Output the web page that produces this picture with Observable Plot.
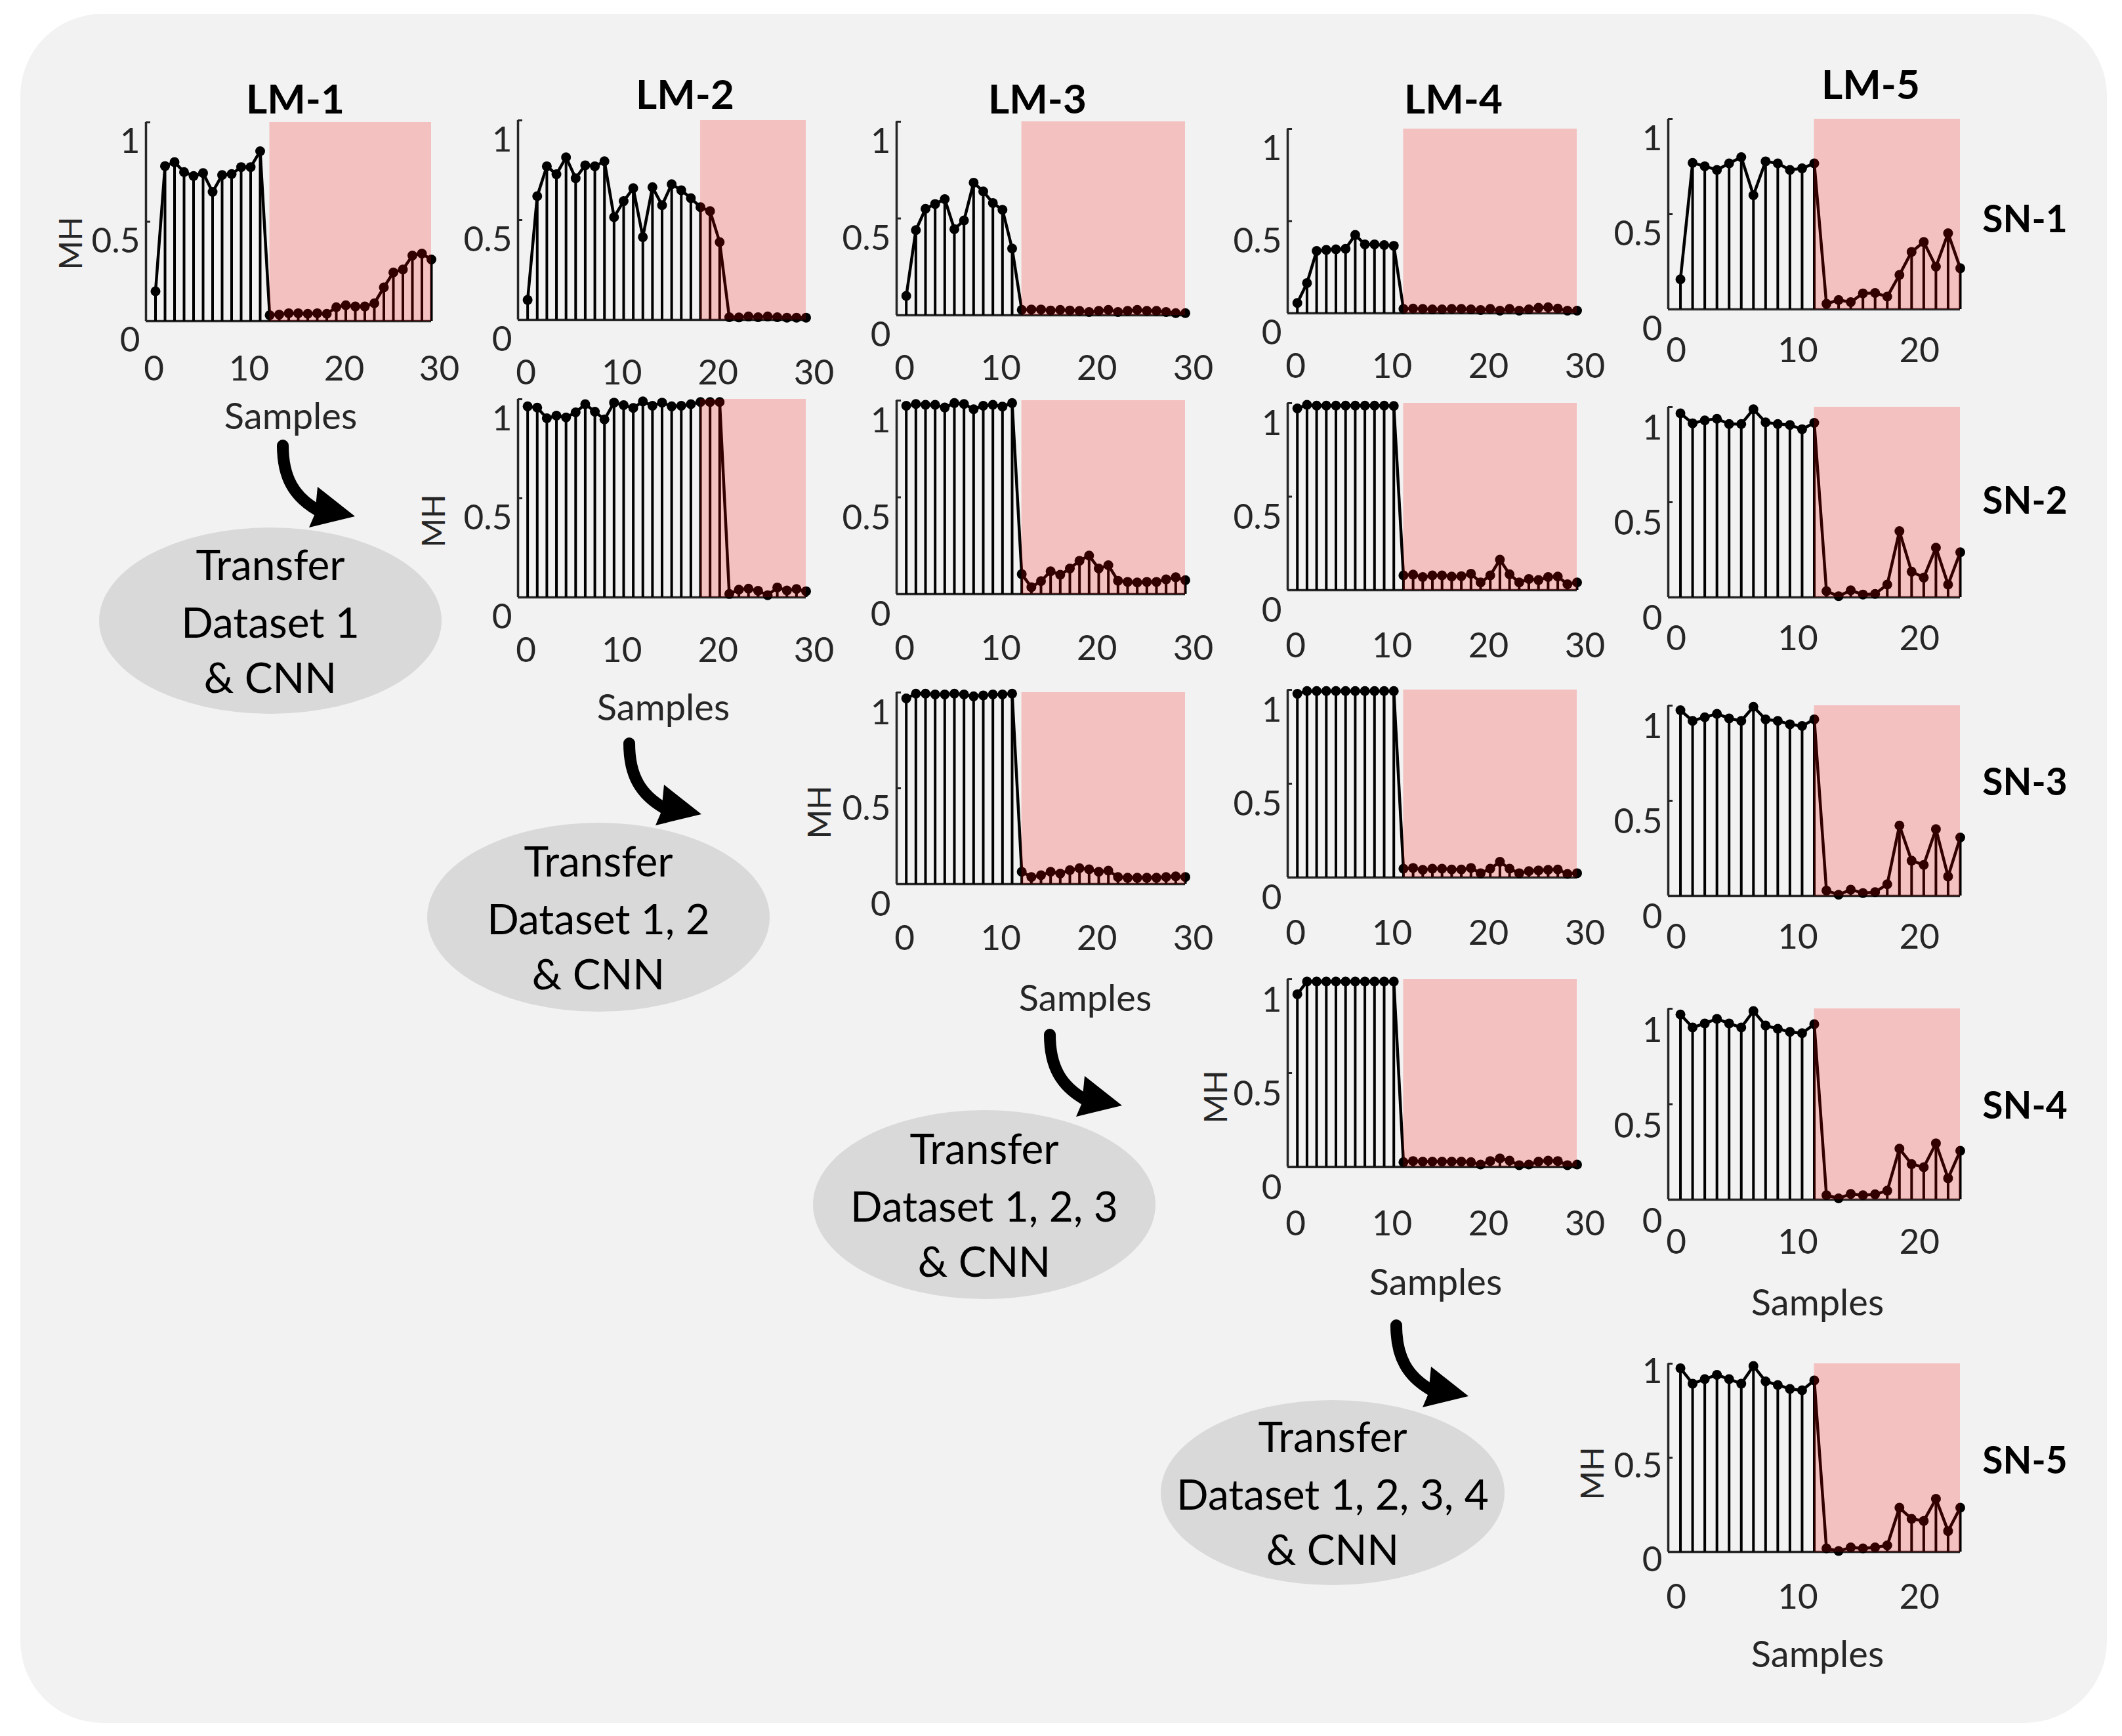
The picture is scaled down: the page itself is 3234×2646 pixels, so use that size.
<!DOCTYPE html>
<html><head><meta charset="utf-8">
<script src="https://cdn.jsdelivr.net/npm/d3@7"></script>
<script src="https://cdn.jsdelivr.net/npm/@observablehq/plot@0.6"></script>
<style>
body{margin:0;background:#fff;}
#page{position:relative;width:3234px;height:2646px;overflow:hidden;font-family:Lato,"Open Sans",sans-serif;}
.bg{position:absolute;left:31px;top:21px;width:3180px;height:2605px;background:#f2f2f2;border-radius:125px;}
.p{position:absolute;}
.t{position:absolute;transform:translate(-50%,-50%);white-space:nowrap;line-height:1;}
#deco{position:absolute;left:0;top:0;}
</style></head>
<body><div id="page"><div class="bg"></div></div>
<script>
// ---------- data ----------
const lmLabels = ["LM-1","LM-2","LM-3","LM-4","LM-5"];
const snLabels = ["SN-1","SN-2","SN-3","SN-4","SN-5"];
const yTicks = [0, 0.5, 1];
const xTicks30 = [0, 10, 20, 30];
const xTicks24 = [0, 10, 20];
const sampleCount = {"LM-1":30,"LM-2":30,"LM-3":30,"LM-4":30,"LM-5":24};
const shadeStart = {"LM-1":13,"LM-2":19,"LM-3":13,"LM-4":12,"LM-5":12};
const transferLabels = ["Dataset 1","Dataset 1, 2","Dataset 1, 2, 3","Dataset 1, 2, 3, 4"];

const lm1_sn1 = [0.15,0.78,0.80,0.75,0.73,0.745,0.65,0.735,0.74,0.775,0.775,0.855,0.03,0.033,0.04,0.04,0.037,0.04,0.037,0.07,0.08,0.074,0.074,0.09,0.17,0.245,0.26,0.33,0.34,0.31];
const lm2_sn1 = [0.10,0.62,0.77,0.73,0.815,0.71,0.775,0.77,0.795,0.515,0.595,0.66,0.415,0.665,0.575,0.68,0.65,0.61,0.565,0.545,0.39,0.013,0.012,0.017,0.013,0.017,0.013,0.011,0.011,0.011];
const lm3_sn1 = [0.10,0.44,0.55,0.575,0.60,0.445,0.49,0.685,0.64,0.58,0.545,0.345,0.028,0.03,0.03,0.025,0.028,0.025,0.023,0.017,0.023,0.028,0.017,0.023,0.028,0.023,0.023,0.017,0.011,0.011];
const lm4_sn1 = [0.056,0.164,0.338,0.344,0.347,0.35,0.425,0.374,0.374,0.37,0.366,0.024,0.026,0.024,0.021,0.021,0.024,0.024,0.021,0.018,0.024,0.014,0.024,0.014,0.021,0.03,0.033,0.026,0.014,0.014];
const lm5_sn1 = [0.158,0.77,0.752,0.733,0.767,0.80,0.60,0.778,0.767,0.733,0.741,0.767,0.029,0.049,0.038,0.084,0.086,0.067,0.181,0.302,0.354,0.224,0.40,0.216];
const lm2_sn2 = [0.964,0.958,0.904,0.917,0.908,0.934,0.975,0.937,0.898,0.983,0.97,0.956,0.989,0.967,0.983,0.964,0.967,0.975,0.986,0.986,0.986,0.017,0.039,0.044,0.033,0.011,0.05,0.035,0.042,0.031];
const lm3_sn2 = [0.973,0.982,0.978,0.978,0.964,0.987,0.982,0.955,0.973,0.978,0.969,0.987,0.103,0.036,0.067,0.118,0.10,0.132,0.172,0.199,0.132,0.149,0.069,0.063,0.06,0.063,0.063,0.076,0.087,0.072];
const lm4_sn2 = [0.972,0.991,0.987,0.987,0.987,0.987,0.987,0.987,0.987,0.987,0.985,0.079,0.083,0.07,0.079,0.079,0.073,0.075,0.088,0.041,0.079,0.163,0.085,0.041,0.06,0.054,0.07,0.073,0.032,0.041];
const lm5_sn2 = [0.967,0.915,0.93,0.939,0.911,0.911,0.989,0.92,0.911,0.906,0.884,0.917,0.033,0.006,0.037,0.015,0.018,0.067,0.348,0.135,0.104,0.261,0.067,0.237];
const lm3_sn3 = [0.969,0.994,0.994,0.99,0.99,0.994,0.99,0.98,0.985,0.99,0.99,0.994,0.064,0.037,0.046,0.064,0.055,0.073,0.083,0.077,0.064,0.07,0.037,0.033,0.033,0.033,0.033,0.037,0.04,0.037];
const lm4_sn3 = [0.979,0.994,0.994,0.994,0.994,0.994,0.994,0.994,0.994,0.994,0.994,0.047,0.051,0.041,0.047,0.047,0.043,0.043,0.051,0.023,0.047,0.084,0.047,0.023,0.034,0.038,0.041,0.043,0.019,0.023];
const lm5_sn3 = [0.976,0.92,0.939,0.957,0.933,0.92,0.994,0.928,0.92,0.902,0.893,0.928,0.028,0.006,0.033,0.015,0.02,0.061,0.37,0.185,0.163,0.351,0.102,0.307];
const lm4_sn4 = [0.92,0.988,0.988,0.988,0.988,0.988,0.988,0.988,0.988,0.988,0.988,0.025,0.031,0.028,0.028,0.028,0.028,0.028,0.025,0.012,0.031,0.045,0.033,0.009,0.012,0.028,0.033,0.031,0.009,0.012];
const lm5_sn4 = [0.97,0.902,0.923,0.947,0.923,0.902,0.988,0.912,0.895,0.879,0.872,0.919,0.023,0.007,0.03,0.023,0.028,0.047,0.267,0.186,0.17,0.295,0.112,0.256];
const lm5_sn5 = [0.976,0.894,0.918,0.941,0.918,0.894,0.988,0.906,0.887,0.866,0.859,0.911,0.019,0.005,0.024,0.019,0.024,0.035,0.235,0.176,0.165,0.282,0.111,0.235];

// ---------- layout (pixel frames of each small axes) ----------
const layout = [
  {lm:"LM-1", values:lm1_sn1, l:222,  r:657,  t:186,  b:489,  xoff:72, ydy:30},
  {lm:"LM-2", values:lm2_sn1, l:789,  r:1228, t:183,  b:487,  xoff:80, ydy:31},
  {lm:"LM-3", values:lm3_sn1, l:1366, r:1806, t:185,  b:480,  xoff:80, ydy:31},
  {lm:"LM-4", values:lm4_sn1, l:1962, r:2403, t:196,  b:477,  xoff:80, ydy:31},
  {lm:"LM-5", values:lm5_sn1, l:2542, r:2987, t:181,  b:471,  xoff:62, ydy:31},
  {lm:"LM-2", values:lm2_sn2, l:789,  r:1228, t:608,  b:910,  xoff:80, ydy:31},
  {lm:"LM-3", values:lm3_sn2, l:1366, r:1806, t:610,  b:905,  xoff:82, ydy:32},
  {lm:"LM-4", values:lm4_sn2, l:1962, r:2403, t:614,  b:899,  xoff:84, ydy:32},
  {lm:"LM-5", values:lm5_sn2, l:2542, r:2987, t:620,  b:910,  xoff:62, ydy:33},
  {lm:"LM-3", values:lm3_sn3, l:1366, r:1806, t:1055, b:1347, xoff:82, ydy:32},
  {lm:"LM-4", values:lm4_sn3, l:1962, r:2403, t:1051, b:1337, xoff:84, ydy:32},
  {lm:"LM-5", values:lm5_sn3, l:2542, r:2987, t:1075, b:1365, xoff:62, ydy:33},
  {lm:"LM-4", values:lm4_sn4, l:1962, r:2403, t:1492, b:1778, xoff:86, ydy:33},
  {lm:"LM-5", values:lm5_sn4, l:2542, r:2987, t:1537, b:1828, xoff:64, ydy:34},
  {lm:"LM-5", values:lm5_sn5, l:2542, r:2987, t:2078, b:2365, xoff:68, ydy:13}
];

const page = document.getElementById("page");
const FONT = "Lato, 'Open Sans', sans-serif";
const AX = "#262626";

function panel(p) {
  const ml = 150, mr = 40, mt = 40, mb = 130;
  const fw = p.r - p.l, fh = p.b - p.t;
  const xmax = sampleCount[p.lm];
  const data = p.values.map((v, i) => ({i: i + 1, v}));
  const shade = [{x1: shadeStart[p.lm], x2: xmax}];
  const svg = Plot.plot({
    width: fw + ml + mr, height: fh + mt + mb,
    marginLeft: ml, marginRight: mr, marginTop: mt, marginBottom: mb,
    x: {domain: [0, xmax]},
    y: {domain: [0, 1]},
    style: {background: "transparent", fontFamily: FONT, overflow: "visible", maxWidth: "none"},
    marks: [
      Plot.axisY({ticks: yTicks, tickSize: 0, tickPadding: 9, dy: p.ydy, fontSize: 53, fill: AX, label: null, tickFormat: d => String(d)}),
      Plot.axisX({ticks: xmax === 24 ? xTicks24 : xTicks30, tickSize: 0, tickPadding: p.xoff - 19, dx: 12, fontSize: 53, fill: AX, label: null}),
      Plot.ruleY([0], {stroke: AX, strokeWidth: 3.5}),
      Plot.ruleX([0], {y1: 0, y2: 1, stroke: AX, strokeWidth: 3.5}),
      Plot.ruleY([0.5, 1], {x1: 0, x2: xmax * 0.016, stroke: AX, strokeWidth: 3}),
      Plot.ruleX(data, {x: "i", y1: 0, y2: "v", stroke: "#000", strokeWidth: 4}),
      Plot.line(data, {x: "i", y: "v", stroke: "#000", strokeWidth: 4.5}),
      Plot.dot(data, {x: "i", y: "v", r: 7.5, fill: "#000"}),
      Plot.rect(shade, {x1: "x1", x2: "x2", y1: 0, y2: 1, fill: "red", fillOpacity: 0.2})
    ]
  });
  svg.classList.add("p");
  svg.style.left = (p.l - ml) + "px";
  svg.style.top = (p.t - mt) + "px";
  page.appendChild(svg);
}

// decorations: ellipses and curved arrows
const ellipses = [
  {cx: 412,  cy: 946,  rx: 261, ry: 142},
  {cx: 912,  cy: 1398, rx: 261, ry: 144},
  {cx: 1500, cy: 1836, rx: 261, ry: 144},
  {cx: 2031, cy: 2275, rx: 262, ry: 141}
];
const arrows = [[431, 679], [959, 1133], [1600, 1577], [2128, 2020]];
const ns = "http://www.w3.org/2000/svg";
const deco = document.createElementNS(ns, "svg");
deco.setAttribute("id", "deco");
deco.setAttribute("width", 3234); deco.setAttribute("height", 2646);
let inner = "";
ellipses.forEach(e => { inner += `<ellipse cx="${e.cx}" cy="${e.cy}" rx="${e.rx}" ry="${e.ry}" fill="#d9d9d9"/>`; });
arrows.forEach(([x, y]) => {
  inner += `<g transform="translate(${x},${y})"><path d="M0,0 C0,50 18,78 52,98" stroke="#000" stroke-width="18" fill="none" stroke-linecap="round"/><polygon points="53,63 110,108 40,125 49,104" fill="#000"/></g>`;
});
deco.innerHTML = inner;
page.appendChild(deco);

layout.forEach(panel);

function text(str, x, y, style) {
  const d = document.createElement("div");
  d.className = "t";
  d.textContent = str;
  d.style.left = x + "px"; d.style.top = y + "px";
  Object.assign(d.style, style);
  page.appendChild(d);
  return d;
}

// column titles
const titlePos = [[450, 149], [1044, 142], [1581, 149], [2215, 149], [2851, 127]];
lmLabels.forEach((s, i) => text(s, titlePos[i][0], titlePos[i][1], {fontSize: "62px", fontWeight: "700", color: "#000"}));
// row labels
const rowPos = [332, 761, 1190, 1683, 2224];
snLabels.forEach((s, i) => text(s, 3086, rowPos[i], {fontSize: "57px", fontWeight: "700", color: "#000"}));
// axis labels
const samplesPos = [[443, 633], [1011, 1077], [1654, 1520], [2188, 1953], [2770, 1984], [2770, 2520]];
samplesPos.forEach(([x, y]) => text("Samples", x, y, {fontSize: "56px", color: AX}));
const mhPos = [[107, 371], [660, 794], [1248, 1238], [1852, 1672], [2426, 2246]];
mhPos.forEach(([x, y]) => text("MH", x, y, {fontSize: "48px", color: AX, transform: "translate(-50%,-50%) rotate(-90deg)"}));
// ellipse texts
ellipses.forEach((e, i) => {
  text("Transfer", e.cx, e.cy - 86, {fontSize: "64px", color: "#000"});
  text(transferLabels[i], e.cx, e.cy + 2, {fontSize: "64px", color: "#000"});
  text("& CNN", e.cx, e.cy + 86, {fontSize: "64px", color: "#000"});
});
</script>
</body></html>
